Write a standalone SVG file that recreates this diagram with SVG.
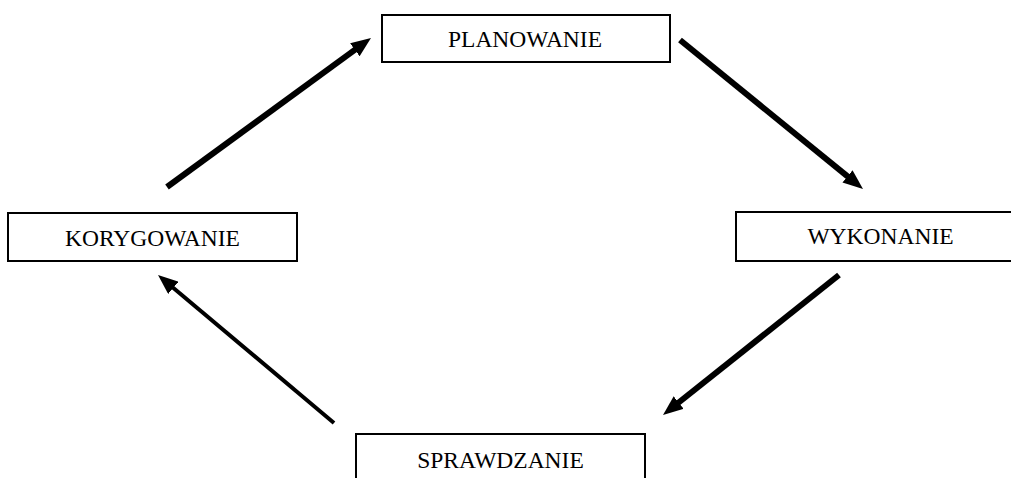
<svg xmlns="http://www.w3.org/2000/svg" width="1011" height="478" viewBox="0 0 1011 478">
<style>
.box{fill:#fff;stroke:#000;stroke-width:2}
.lbl{font-family:"Liberation Serif","Times New Roman",serif;font-size:23.5px;fill:#000;text-anchor:middle}
.thick{stroke:#000;stroke-width:6;fill:none}
.thin{stroke:#000;stroke-width:4;fill:none}
</style>
<defs>
<marker id="ah" markerUnits="userSpaceOnUse" viewBox="0 0 20 16" markerWidth="20" markerHeight="16" refX="8" refY="8" orient="auto">
<path d="M0,0 L20,8 L0,16 z" fill="#000"/>
</marker>
</defs>
<rect x="0" y="0" width="1011" height="478" fill="#fff"/>
<g id="connectors">
<line class="thick" x1="167" y1="187" x2="361.3" y2="45.1" marker-end="url(#ah)"/>
<line class="thick" x1="680" y1="40" x2="853.7" y2="181.4" marker-end="url(#ah)"/>
<line class="thick" x1="839" y1="275" x2="672.4" y2="407.5" marker-end="url(#ah)"/>
<line class="thin" x1="334" y1="423" x2="167.2" y2="282.7" marker-end="url(#ah)"/>
</g>
<g id="planowanie">
<rect class="box" x="382" y="15" width="288" height="47"/>
<text class="lbl" x="525" y="47">PLANOWANIE</text>
</g>
<g id="wykonanie">
<rect class="box" x="736" y="212" width="300" height="49"/>
<text class="lbl" x="880.5" y="244">WYKONANIE</text>
</g>
<g id="sprawdzanie">
<rect class="box" x="356" y="434" width="289" height="60"/>
<text class="lbl" x="500.5" y="467.5">SPRAWDZANIE</text>
</g>
<g id="korygowanie">
<rect class="box" x="8" y="213" width="289" height="48"/>
<text class="lbl" x="152.5" y="246">KORYGOWANIE</text>
</g>
</svg>
